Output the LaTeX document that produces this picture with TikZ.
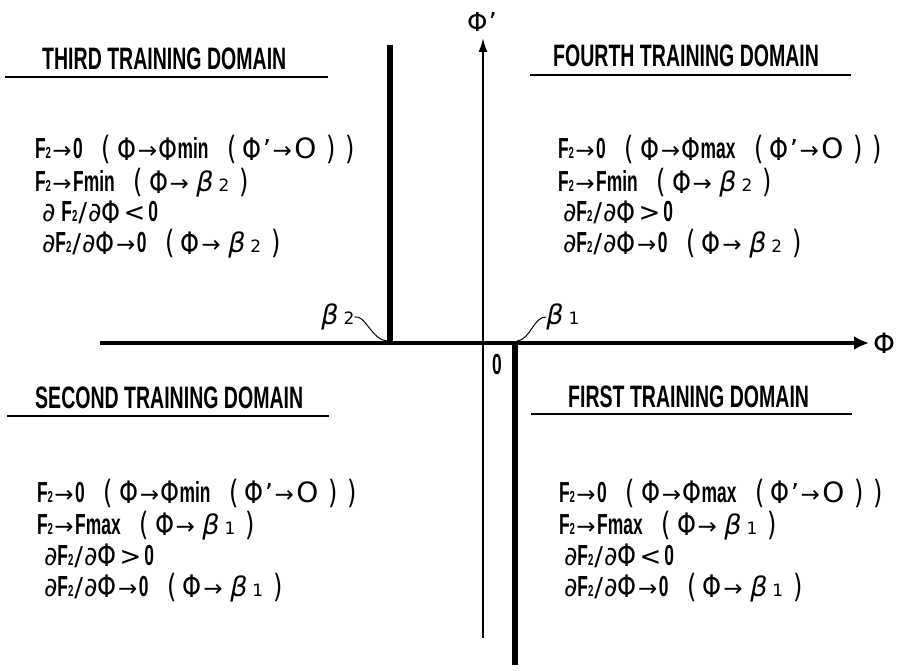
\documentclass[tikz,border=0pt]{standalone}
\usepackage{fontspec}
\usetikzlibrary{arrows.meta}
\newfontfamily\bcfam{Liberation Sans}[FakeStretch=0.6]
\newfontfamily\ttfam{Liberation Sans}[FakeStretch=0.63]
\newfontfamily\thfam{DejaVu Sans}
\newcommand\bfnt{\bcfam\bfseries\fontsize{29}{29}\selectfont}
\newcommand\tfnt{\thfam\fontsize{26}{26}\selectfont}
\newcommand\mB[1]{{\bfnt #1}}
\newcommand\mT[1]{{\tfnt #1}}
\newcommand\mF{{\bfnt F{\fontsize{16}{16}\selectfont 2}}}
\newcommand\mAr{{\thfam\fontsize{23}{23}\selectfont\hspace{1.5pt}→\hspace{1.5pt}}}
\newcommand\mPh{\raisebox{-1.5pt}{\scalebox{0.78}[1]{\thfam\fontsize{31}{31}\selectfont Φ}}}
\newcommand\mPr{{\tfnt\hspace{1pt}’}}
\newcommand\mPa[1]{\raisebox{-1pt}{\scalebox{0.75}[1]{\thfam\fontsize{32}{32}\selectfont #1}}}
\newcommand\mOp{\hspace{19pt}\mPa{(}\hspace{6pt}}
\newcommand\mCp{\hspace{10pt}\mPa{)}}
\newcommand\mO{{\thfam\fontsize{28}{28}\selectfont\hspace{1pt}O}}
\newcommand\mBeta[1]{{\thfam\fontsize{27}{27}\selectfont\hspace{6pt}\itshape β}{\thfam\fontsize{17}{17}\selectfont\hspace{5pt}#1}}
\newcommand\mDel{{\tfnt ∂}}
\newcommand\mSl{{\tfnt\hspace{1pt}/\hspace{1pt}}}
\newcommand\mRel[1]{{\tfnt\hspace{3pt}#1\hspace{3pt}}}
\tikzset{
  txt/.style={anchor=base west,inner sep=0pt,outer sep=0pt},
  ttl/.style={anchor=base west,inner sep=0pt,font=\ttfam\bfseries\fontsize{31}{31}\selectfont},
  uline/.style={line width=1.6pt},
  thick axis/.style={line width=4.5pt},
  bar/.style={line width=5.5pt},
  thin axis/.style={line width=2pt},
  lead/.style={line width=1pt}
}
\begin{document}
\begin{tikzpicture}[x=1pt,y=-1pt]
\path[use as bounding box] (0,0) rectangle (906,671);
% axes
\coordinate (hl) at (100,343);
\coordinate (hr) at (869,343);
\coordinate (vb) at (483,638);
\coordinate (vt) at (483,38);
\coordinate (b2top) at (390,45);
\coordinate (b2bot) at (390,343);
\coordinate (b1top) at (515,343);
\coordinate (b1bot) at (515,665);
\draw[thick axis,-{Latex[length=15pt,width=14pt]}] (hl) -- (hr);
\draw[thin axis,-{Latex[length=14pt,width=9pt]}] (vb) -- (vt);
\draw[bar] (b2top) -- (b2bot);
\draw[bar] (b1top) -- (b1bot);
\node[inner sep=0pt,anchor=west] (phi) at (873,343) {{\thfam\fontsize{28}{28}\selectfont Φ}};
\node[inner sep=0pt,anchor=center] (phip) at (482,22) {{\thfam\fontsize{26}{26}\selectfont Φ\hspace{1pt}’}};
\node[inner sep=0pt,anchor=center] (zero) at (497,365) {\mB{0}};
% beta labels
\node[inner sep=0pt,anchor=center] (beta2) at (338,317) {{\thfam\fontsize{27}{27}\selectfont\itshape β}{\thfam\fontsize{17}{17}\selectfont\hspace{5pt}2}};
\node[inner sep=0pt,anchor=center] (beta1) at (563,317) {{\thfam\fontsize{27}{27}\selectfont\itshape β}{\thfam\fontsize{17}{17}\selectfont\hspace{5pt}1}};
\coordinate (b2p) at (387,341);
\coordinate (b1p) at (517,341);
\draw[lead] (beta2.east) .. controls +(10,-3) and (372,340) .. (b2p);
\draw[lead] (beta1.west) .. controls +(-12,-1) and (530,340) .. (b1p);
% titles
\node[ttl] (t3) at (42,70) {THIRD TRAINING DOMAIN};
\node[ttl] (t4) at (553,67) {FOURTH TRAINING DOMAIN};
\node[ttl] (t2) at (35,409) {SECOND TRAINING DOMAIN};
\node[ttl] (t1) at (568,407) {FIRST TRAINING DOMAIN};
\coordinate (u3a) at (5,77); \coordinate (u3b) at (328,77);
\coordinate (u4a) at (530,75); \coordinate (u4b) at (851,75);
\coordinate (u2a) at (7,416); \coordinate (u2b) at (329,416);
\coordinate (u1a) at (531,414); \coordinate (u1b) at (852,414);
\draw[uline] (u3a) -- (u3b);
\draw[uline] (u4a) -- (u4b);
\draw[uline] (u2a) -- (u2b);
\draw[uline] (u1a) -- (u1b);
% third domain
\node[txt] (a1) at (35,159) {\mF\mAr\mB{0}\mOp\mPh\mAr\mPh\mB{min}\mOp\mPh\mPr\mAr\mO\mCp\mCp};
\node[txt] (a2) at (35,192) {\mF\mAr\mB{Fmin}\mOp\mPh\mAr\mBeta{2}\mCp};
\node[txt] (a3) at (42,222) {\mDel\hspace{6pt}\mF\mSl\mDel\mPh\mRel{<}\mB{0}};
\node[txt] (a4) at (42,253) {\mDel\mF\mSl\mDel\mPh\mAr\mB{0}\mOp\mPh\mAr\mBeta{2}\mCp};
% fourth domain
\node[txt] (b1) at (558,159) {\mF\mAr\mB{0}\mOp\mPh\mAr\mPh\mB{max}\mOp\mPh\mPr\mAr\mO\mCp\mCp};
\node[txt] (b2) at (558,192) {\mF\mAr\mB{Fmin}\mOp\mPh\mAr\mBeta{2}\mCp};
\node[txt] (b3) at (563,222) {\mDel\mF\mSl\mDel\mPh\mRel{>}\mB{0}};
\node[txt] (b4) at (563,253) {\mDel\mF\mSl\mDel\mPh\mAr\mB{0}\mOp\mPh\mAr\mBeta{2}\mCp};
% second domain
\node[txt] (c1) at (37,502) {\mF\mAr\mB{0}\mOp\mPh\mAr\mPh\mB{min}\mOp\mPh\mPr\mAr\mO\mCp\mCp};
\node[txt] (c2) at (37,534) {\mF\mAr\mB{Fmax}\mOp\mPh\mAr\mBeta{1}\mCp};
\node[txt] (c3) at (44,565) {\mDel\mF\mSl\mDel\mPh\mRel{>}\mB{0}};
\node[txt] (c4) at (44,596) {\mDel\mF\mSl\mDel\mPh\mAr\mB{0}\mOp\mPh\mAr\mBeta{1}\mCp};
% first domain
\node[txt] (d1) at (559,502) {\mF\mAr\mB{0}\mOp\mPh\mAr\mPh\mB{max}\mOp\mPh\mPr\mAr\mO\mCp\mCp};
\node[txt] (d2) at (559,534) {\mF\mAr\mB{Fmax}\mOp\mPh\mAr\mBeta{1}\mCp};
\node[txt] (d3) at (564,565) {\mDel\mF\mSl\mDel\mPh\mRel{<}\mB{0}};
\node[txt] (d4) at (564,596) {\mDel\mF\mSl\mDel\mPh\mAr\mB{0}\mOp\mPh\mAr\mBeta{1}\mCp};
\end{tikzpicture}
\end{document}
